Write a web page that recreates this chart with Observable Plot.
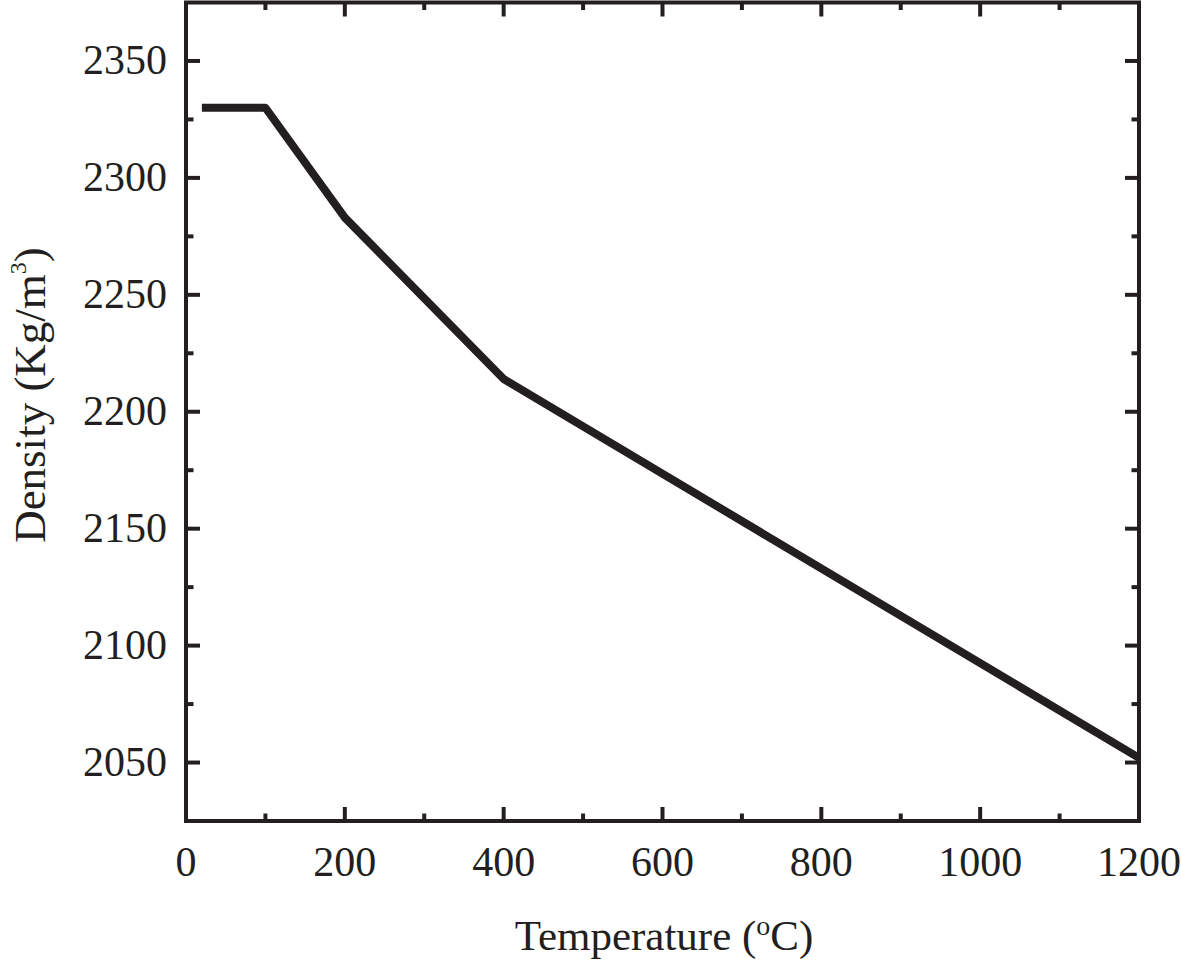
<!DOCTYPE html>
<html>
<head>
<meta charset="utf-8">
<script src="https://cdn.jsdelivr.net/npm/d3@7"></script>
<script src="https://cdn.jsdelivr.net/npm/@observablehq/plot@0.6"></script>
<style>
  html, body { margin: 0; padding: 0; background: #fff; }
  svg { display: block; }
</style>
</head>
<body>
<div id="chart"></div>
<script>
// ---- data ----
const temperature = [20, 100, 200, 400, 1200];
const density = [2330, 2330, 2283, 2214, 2052];
const xMajor = [0, 200, 400, 600, 800, 1000, 1200];
const xMinor = [100, 300, 500, 700, 900, 1100];
const yMajor = [2050, 2100, 2150, 2200, 2250, 2300, 2350];
const yMinor = [2075, 2125, 2175, 2225, 2275, 2325];

const ink = "#231f20";
const font = "'Liberation Serif', 'Times New Roman', serif";
const rows = temperature.map((t, i) => ({t, d: density[i]}));
const tickShape = {draw(ctx, l) { ctx.moveTo(0, 0); ctx.lineTo(0, -l); }};

function ticks(values, dim, anchor, rotate, len) {
  const opts = {frameAnchor: anchor, rotate, length: len, anchor: "start", shape: tickShape,
    stroke: ink, strokeWidth: 4, strokeLinecap: "butt"};
  return dim === "x" ? Plot.vectorX(values, {x: d => d, ...opts}) : Plot.vectorY(values, {y: d => d, ...opts});
}

const chart = Plot.plot({
  width: 1181,
  height: 961,
  marginLeft: 185.5,
  marginRight: 42.5,
  marginTop: 2,
  marginBottom: 140.5,
  style: {fontFamily: font, color: ink, background: "#fff"},
  x: {domain: [0, 1200]},
  y: {domain: [2025, 2375]},
  marks: [
    Plot.axisX({ticks: xMajor, tickSize: 0, tickPadding: 25, fontSize: 42, fill: ink, label: null, tickFormat: d => String(d)}),
    Plot.axisY({ticks: yMajor, tickSize: 0, tickPadding: 19, fontSize: 42, fill: ink, label: null, tickFormat: d => String(d)}),
    ticks(xMajor, "x", "bottom", 0, 14),
    ticks(xMinor, "x", "bottom", 0, 7.5),
    ticks(xMajor, "x", "top", 180, 14),
    ticks(xMinor, "x", "top", 180, 7.5),
    ticks(yMajor, "y", "left", 90, 14),
    ticks(yMinor, "y", "left", 90, 7.5),
    ticks(yMajor, "y", "right", -90, 14),
    ticks(yMinor, "y", "right", -90, 7.5),
    Plot.line(rows, {x: "t", y: "d", stroke: ink, strokeWidth: 8, strokeLinecap: "butt", strokeLinejoin: "round"}),
    Plot.frame({stroke: ink, strokeWidth: 4})
  ]
});
document.getElementById("chart").appendChild(chart);

const svg = d3.select(chart);
// x label
const xl = svg.append("text")
  .attr("x", 664).attr("y", 950)
  .attr("text-anchor", "middle")
  .attr("font-family", font).attr("font-size", 43).attr("fill", ink);
xl.append("tspan").text("Temperature (");
xl.append("tspan").attr("font-size", 28).attr("dy", -15).text("o");
xl.append("tspan").attr("dy", 15).text("C)");

// y label
const yl = svg.append("text")
  .attr("transform", "translate(45,395) rotate(-90)")
  .attr("text-anchor", "middle")
  .attr("font-family", font).attr("font-size", 45).attr("fill", ink);
yl.append("tspan").text("Density (Kg/m");
yl.append("tspan").attr("font-size", 24).attr("dy", -19).text("3");
yl.append("tspan").attr("dy", 19).text(")");
</script>
</body>
</html>
